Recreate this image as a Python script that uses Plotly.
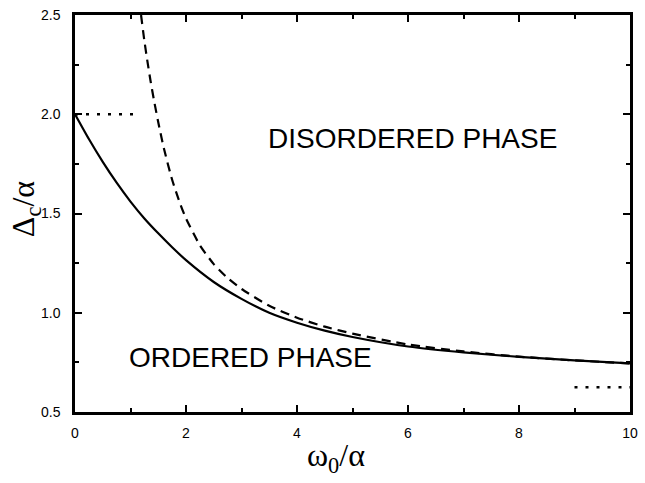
import plotly.graph_objects as go

# Critical coupling Δc/α versus ω0/α
omega_solid = [0, 0.25, 0.5, 0.75, 1.0, 1.25, 1.5, 1.75, 2.0, 2.5, 3.0, 3.5, 4.0, 4.5, 5.0, 6.0, 7.0, 8.0, 9.0, 10.0]
delta_solid = [2.0, 1.875, 1.76, 1.655, 1.56, 1.475, 1.40, 1.33, 1.265, 1.155, 1.07, 1.0, 0.95, 0.91, 0.878, 0.83, 0.80, 0.778, 0.76, 0.745]

# Approximate (dashed) boundary
omega_dash = [1.19, 1.25, 1.3, 1.36, 1.42, 1.5, 1.6, 1.75, 1.9, 2.0, 2.25, 2.5, 2.75, 3.0, 3.5, 4.0, 4.5, 5.0, 6.0, 7.0, 8.0, 9.0, 10.0]
delta_dash = [2.5, 2.37, 2.275, 2.17, 2.075, 1.96, 1.83, 1.67, 1.545, 1.475, 1.34, 1.245, 1.175, 1.12, 1.035, 0.975, 0.93, 0.895, 0.84, 0.805, 0.779, 0.76, 0.745]

# Limiting values (dotted)
omega_low = [0, 1.05]
delta_low = [2.0, 2.0]
omega_high = [9.0, 10.0]
delta_high = [0.625, 0.625]

x_ticks = [0, 2, 4, 6, 8, 10]
y_ticks = [0.5, 1.0, 1.5, 2.0, 2.5]

fig = go.Figure()
fig.add_trace(go.Scatter(x=omega_solid, y=delta_solid, mode="lines",
                         line=dict(color="black", width=2.2, shape="spline", smoothing=0.6)))
fig.add_trace(go.Scatter(x=omega_dash, y=delta_dash, mode="lines",
                         line=dict(color="black", width=2.2, shape="spline", smoothing=0.6, dash="9px,6px")))
fig.add_trace(go.Scatter(x=omega_low, y=delta_low, mode="lines",
                         line=dict(color="black", width=2.5, dash="3px,8px")))
fig.add_trace(go.Scatter(x=omega_high, y=delta_high, mode="lines",
                         line=dict(color="black", width=2.5, dash="3px,8px")))

axis_common = dict(
    showline=True, linecolor="black", linewidth=2.5, mirror="allticks",
    ticks="inside", ticklen=7, tickwidth=2, tickcolor="black",
    showgrid=False, zeroline=False,
    tickfont=dict(family="Liberation Sans, Arial, sans-serif", size=14, color="black"),
)

fig.update_xaxes(range=[0, 10], tickvals=x_ticks, ticktext=[str(v) for v in x_ticks],
                 minor=dict(ticks="inside", ticklen=4, tickwidth=2, dtick=1, tick0=0, tickcolor="black"),
                 ticklabelstandoff=6, **axis_common)
fig.update_yaxes(range=[0.5, 2.5], tickvals=y_ticks, ticktext=[f"{v:.1f}" for v in y_ticks],
                 minor=dict(ticks="inside", ticklen=4, tickwidth=2, dtick=0.25, tick0=0.5, tickcolor="black"),
                 ticklabelstandoff=9, **axis_common)

label_font = dict(family="Liberation Sans, Arial, sans-serif", size=28, color="black")
title_font = dict(family="Liberation Serif, Times New Roman, serif", size=32, color="black")

fig.add_annotation(x=6.08, y=1.878, text="DISORDERED PHASE", showarrow=False,
                   font=label_font, xanchor="center", yanchor="middle")
fig.add_annotation(x=3.16, y=0.776, text="ORDERED PHASE", showarrow=False,
                   font=label_font, xanchor="center", yanchor="middle")

fig.add_annotation(
    xref="paper", yref="paper", x=0.47, y=-0.115, xanchor="center", yanchor="middle",
    text="ω<sub>0</sub>/α", showarrow=False, font=title_font)
fig.add_annotation(
    xref="paper", yref="paper", x=-0.089, y=0.51, xanchor="center", yanchor="middle",
    textangle=-90, text="Δ<sub>c</sub>/α", showarrow=False, font=title_font)

fig.update_layout(
    width=645, height=483, showlegend=False,
    margin=dict(l=75, r=7, t=13, b=71),
    paper_bgcolor="white", plot_bgcolor="white",
)

fig.write_html("out.html")
